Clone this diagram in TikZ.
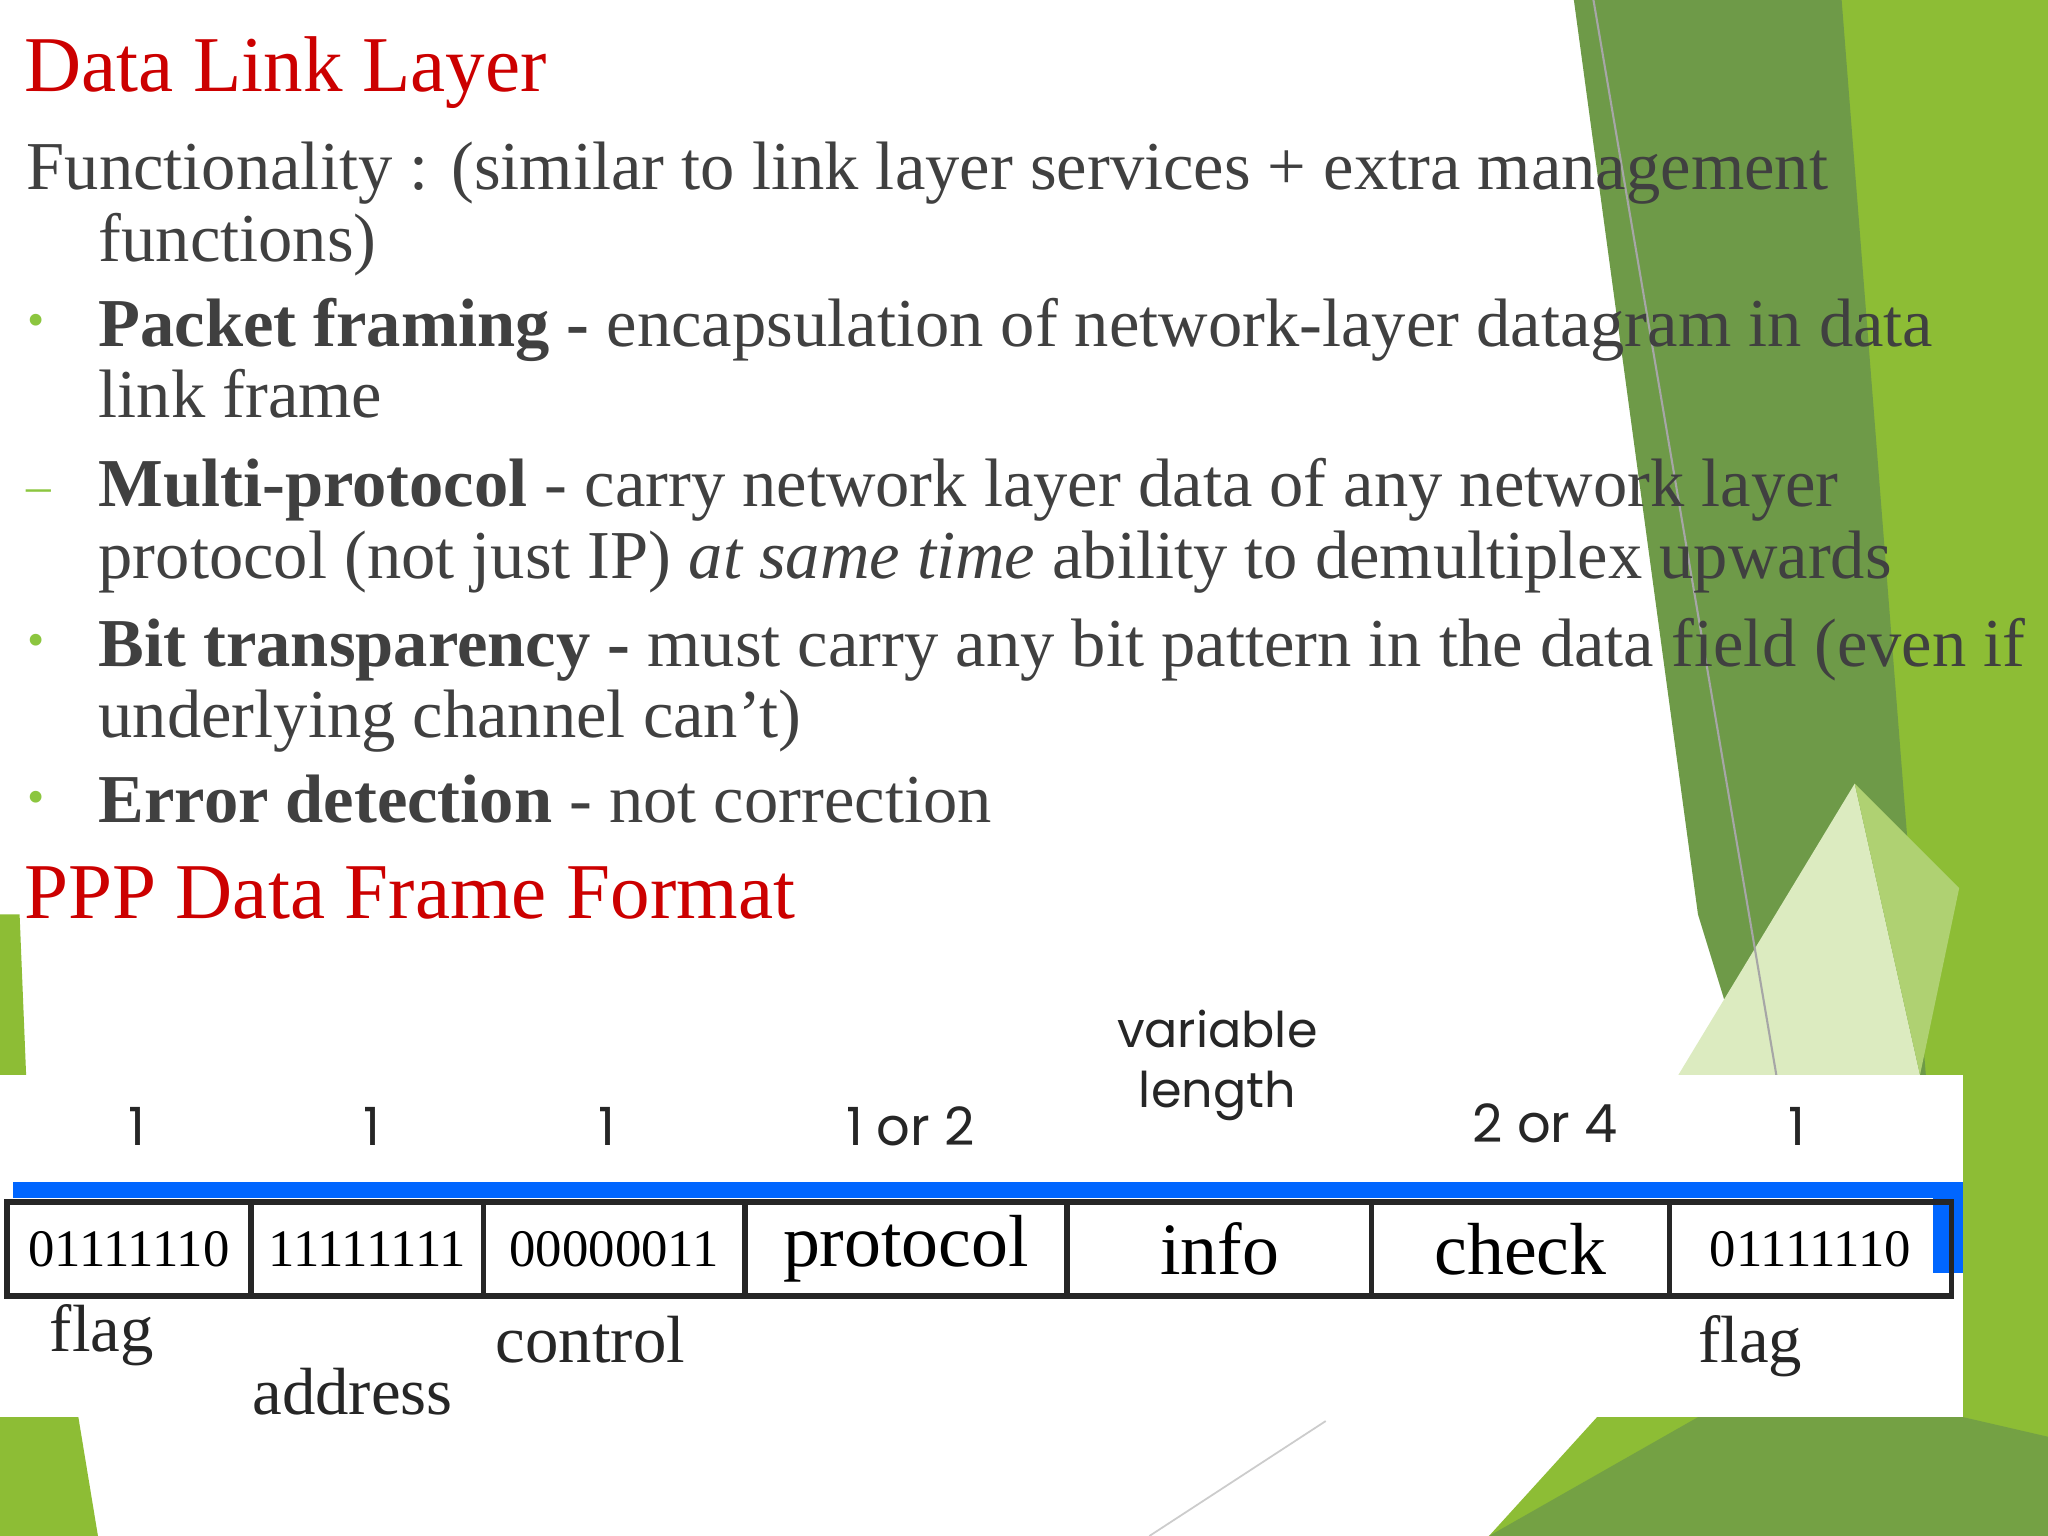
\documentclass[tikz,border=0pt]{standalone}
\usepackage{fontspec}
\setmainfont{Liberation Serif}
\newfontfamily\geo{Poppins}
\begin{document}
\begin{tikzpicture}[x=0.01306cm,y=-0.01306cm,
  body/.style={anchor=base west,inner sep=0,text=txt,font=\fontsize{19.5}{22}\selectfont},
  ttl/.style={anchor=base west,inner sep=0,text=red!80!black,font=\fontsize{22.5}{26}\selectfont},
  bul/.style={anchor=base,inner sep=0,text=bg,font=\fontsize{14}{16}\selectfont},
  num/.style={anchor=base,inner sep=0,font=\geo\fontsize{15}{17}\selectfont,text=black!85},
  lab/.style={anchor=base,inner sep=0,font=\fontsize{19}{21}\selectfont,text=black!85},
  cell/.style={draw=black!85,line width=1.6pt,anchor=north west,inner sep=0,minimum height=72*0.01306cm}]
\definecolor{txt}{HTML}{404040}
\definecolor{bg}{HTML}{8CC63F}
\definecolor{dg}{HTML}{6E9A48}
\definecolor{lg}{HTML}{8DBD35}
\definecolor{pg}{HTML}{DCEBC0}
\useasboundingbox (0,0) rectangle (1568,1176);
\fill[white] (0,0) rectangle (1568,1176);
% background shapes
\fill[lg] (1400,0) -- (1568,0) -- (1568,1176) -- (1140,1176) -- (1300,1000) -- (1460,830) -- cycle;
\fill[dg] (1205,0) -- (1410,0) -- (1475,830) -- (1340,830) -- (1300,700) -- cycle;
\fill[pg] (1285,823) -- (1420,600) -- (1470,823) -- cycle;
\fill[lg!70!white] (1420,600) -- (1500,680) -- (1470,823) -- cycle;
\fill[lg] (0,700) -- (15,700) -- (20,823) -- (0,823) -- cycle;
\fill[lg] (0,1085) -- (60,1085) -- (75,1176) -- (0,1176) -- cycle;
\fill[dg!80!lg] (1140,1176) -- (1300,1085) -- (1503,1085) -- (1568,1100) -- (1568,1176) -- cycle;
\draw[gray!70,line width=0.6pt] (1220,0) -- (1360,823);
\draw[gray!40,line width=0.5pt] (880,1176) -- (1015,1088);
% text
\node[ttl] (t1) at (18,70) {Data Link Layer};
\node[body] (l1) at (20,145) {Functionality : (similar to link layer services + extra management};
\node[body] (l2) at (75,200) {functions)};
\node[bul] (b1) at (28,258) {•};
\node[body] (l3) at (75,265) {\textbf{Packet framing -} encapsulation of network-layer datagram in data};
\node[body] (l4) at (75,320) {link frame};
\node[bul] (b2) at (30,385) {–};
\node[body] (l5) at (75,388) {\textbf{Multi-protocol} - carry network layer data of any network layer};
\node[body] (l6) at (75,443) {protocol (not just IP) \textit{at same time} ability to demultiplex upwards};
\node[bul] (b3) at (28,503) {•};
\node[body] (l7) at (75,510) {\textbf{Bit transparency -} must carry any bit pattern in the data field (even if};
\node[body] (l8) at (75,565) {underlying channel can't)};
\node[bul] (b4) at (28,623) {•};
\node[body] (l9) at (75,630) {\textbf{Error detection} - not correction};
\node[ttl] (t2) at (18,703) {PPP Data Frame Format};
% frame
\fill[white] (0,823) rectangle (1503,1085);
\fill[blue!60!cyan] (10,905) rectangle (1503,917);
\fill[blue!60!cyan] (1480,905) rectangle (1503,975);
\node[num] (n1) at (105,877) {1};
\node[num] (n2) at (285,877) {1};
\node[num] (n3) at (465,877) {1};
\node[num] (n4) at (697,877) {1 or 2};
\node[num,align=center,font=\geo\fontsize{14}{17}\selectfont] (n5) at (932,848) {variable\\length};
\node[num] (n6) at (1183,875) {2 or 4};
\node[num] (n7) at (1376,877) {1};
\foreach \a/\b/\t/\f/\n in {3/190/01111110/15/c1,190/368/11111111/15/c2,368/568/00000011/15/c3,568/815/protocol/21/c4,815/1048/info/21/c5,1048/1276/check/21/c6,1276/1492/01111110/15/c7}{
  \node[cell,minimum width={(\b-\a)*0.01306cm},font=\fontsize{\f}{\f}\selectfont] (\n) at (\a,918) {\t};
}
\node[lab] (f1) at (78,1035) {flag};
\node[lab] (f2) at (270,1083) {address};
\node[lab] (f3) at (452,1043) {control};
\node[lab] (f4) at (1340,1043) {flag};
\end{tikzpicture}
\end{document}
